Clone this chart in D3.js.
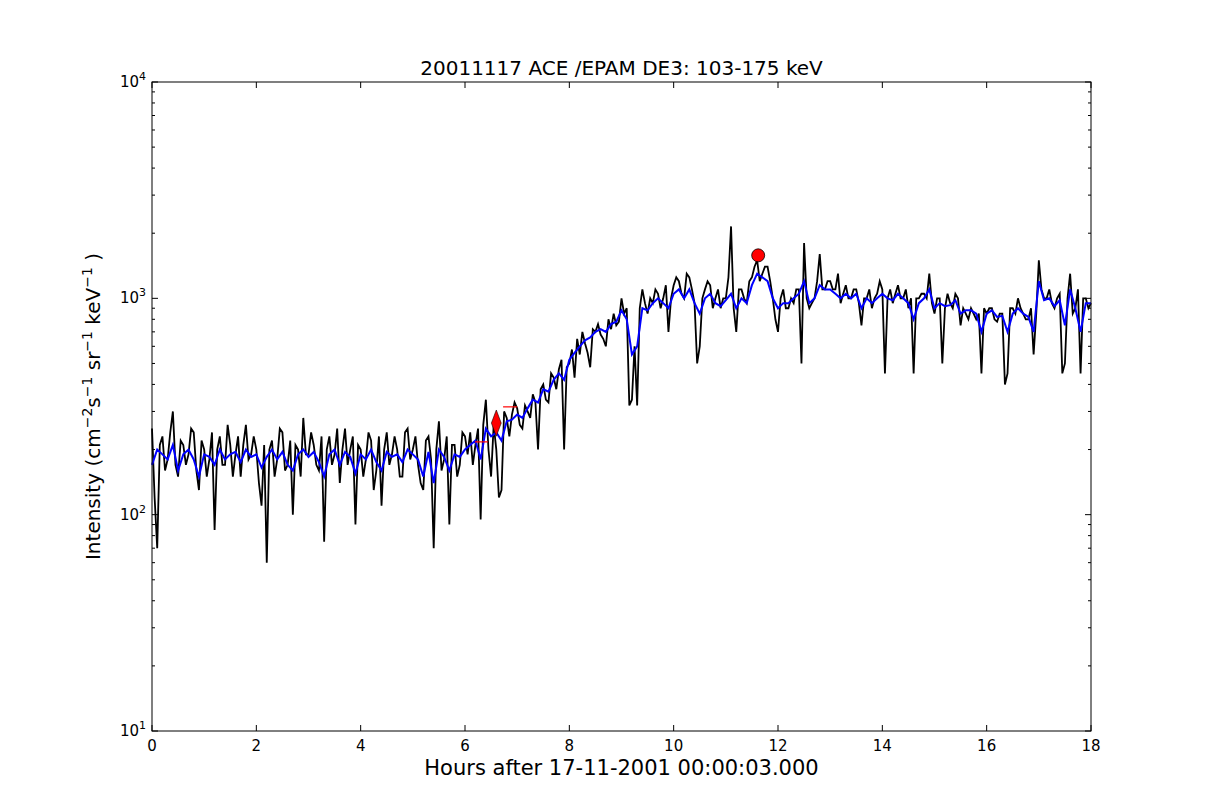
<!DOCTYPE html>
<html><head><meta charset="utf-8">
<script src="https://cdn.jsdelivr.net/npm/d3@7"></script>
<style>body{margin:0;background:#fff}svg{font-family:"DejaVu Sans",sans-serif}</style>
</head><body><svg id="c" width="1212" height="812"></svg>
<script>
const blackHours = d3.range(0, 361).map(i => i / 20);
const blueHours = d3.range(0, 181).map(i => i / 10);
const blackVals = [
250,120,70,210,230,160,180,240,300,170,
150,220,210,170,190,250,240,160,130,220,
200,150,180,240,85,200,230,170,170,260,
210,150,190,230,150,210,260,180,190,230,
200,140,110,210,60,200,220,150,180,250,
240,160,170,220,100,210,200,150,280,190,
190,240,210,170,160,230,75,200,230,170,
190,250,140,200,250,170,200,230,90,210,
200,150,180,240,220,130,160,230,110,200,
240,170,190,230,200,150,150,240,250,180,
200,230,170,140,130,220,230,180,70,200,
270,160,180,230,90,210,210,150,170,240,
230,190,240,170,210,250,95,260,340,200,
150,260,200,120,130,300,280,230,290,330,
310,260,250,320,300,280,360,330,200,380,
400,340,330,450,430,380,470,520,200,480,
500,580,430,650,550,700,620,560,480,720,
700,760,680,650,600,800,720,850,750,780,
1000,850,900,320,340,600,320,900,1100,950,
850,1000,950,1100,1050,900,1000,1150,700,1000,
1150,1250,1200,1050,1000,1300,1250,1100,950,500,
600,1000,1100,1200,1150,900,1000,1100,900,1000,
1000,1250,2150,900,700,1100,1100,1000,950,1200,
1250,1400,1500,1200,1300,1400,1400,1200,1000,800,
700,1000,1100,900,900,1000,950,1100,1100,500,
1800,1000,900,950,1000,1200,1600,1100,1100,1200,
1200,1100,1100,1300,950,1050,1150,1000,1000,1100,
1100,950,750,1000,1000,1100,900,1000,1050,1200,
1100,450,1000,1100,950,1050,1150,1000,1000,1100,
900,1000,450,1000,1000,1050,1050,1000,1300,950,
850,1000,1000,500,900,1050,950,900,1050,1000,
750,900,850,800,900,850,800,850,450,900,
850,900,900,800,780,850,850,400,450,900,
900,850,1000,900,850,800,800,900,550,850,
1500,1100,1000,1000,1100,950,900,1000,1050,450,
500,1000,1300,850,900,1100,450,1000,1000,900,
950];
const blueVals = [170,200,190,180,210,160,190,200,180,150,
190,185,170,200,180,190,195,175,200,185,
190,165,185,200,180,195,170,160,190,200,
185,195,175,150,190,200,170,195,185,155,
190,180,200,175,160,195,185,190,175,200,
190,180,150,195,140,200,185,160,190,185,
200,210,220,180,250,230,240,220,270,275,
290,280,310,340,330,380,370,420,450,420,
520,560,600,640,660,700,720,700,760,780,
880,800,550,600,900,880,950,1000,950,900,
1050,1100,1000,1100,950,850,1000,1050,950,920,
980,1050,900,1000,950,1150,1300,1250,1200,1000,
900,950,950,1000,1050,1200,950,1000,1150,1100,
1100,1050,1000,1050,1000,1050,900,1000,950,1000,
1050,1000,980,1050,1000,950,800,950,1000,1100,
900,950,920,930,980,850,880,880,850,700,
850,880,820,830,700,850,900,850,820,700,
1200,980,1000,920,980,750,1100,900,700,950,
950];
const xTicks = [0,2,4,6,8,10,12,14,16,18];
const yTicks = [10,100,1000,10000];
const diamond = {h:6.6, v:265};
const circle = {h:11.62, v:1580};
const redSegs = [{h0:6.19,h1:6.44,v:217},{h0:6.73,h1:7.0,v:315}];

const svg = d3.select("#c");
const L=152,R=1091,T=82,B=731;
const x = d3.scaleLinear().domain([0,18]).range([L,R]);
const y = d3.scaleLog().domain([10,10000]).range([B,T]);

const lineB = d3.line().x((d,i)=>x(blackHours[i])).y(d=>y(d));
const lineU = d3.line().x((d,i)=>x(blueHours[i])).y(d=>y(d));
svg.append("path").datum(blackVals).attr("d",lineB).attr("fill","none").attr("stroke","#000").attr("stroke-width",1.8);
svg.append("path").datum(blueVals).attr("d",lineU).attr("fill","none").attr("stroke","#0000ff").attr("stroke-width",2);
redSegs.forEach(s=>svg.append("line").attr("x1",x(s.h0)).attr("x2",x(s.h1)).attr("y1",y(s.v)).attr("y2",y(s.v)).attr("stroke","red").attr("stroke-width",1.2));
svg.append("path").attr("d",d3.symbol(d3.symbolDiamond,150)()).attr("transform",`translate(${x(diamond.h)},${y(diamond.v)}) scale(0.75,1.15)`).attr("fill","red").attr("stroke","#000").attr("stroke-width",0.6);
svg.append("circle").attr("cx",x(circle.h)).attr("cy",y(circle.v)).attr("r",6.5).attr("fill","red").attr("stroke","#000").attr("stroke-width",0.8);

svg.append("rect").attr("x",L).attr("y",T).attr("width",R-L).attr("height",B-T).attr("fill","none").attr("stroke","#000").attr("stroke-width",1);

const tk = svg.append("g").attr("stroke","#000").attr("stroke-width",1);
xTicks.forEach(t=>{
  tk.append("line").attr("x1",x(t)).attr("x2",x(t)).attr("y1",B).attr("y2",B-6);
  tk.append("line").attr("x1",x(t)).attr("x2",x(t)).attr("y1",T).attr("y2",T+6);
  svg.append("text").attr("x",x(t)).attr("y",B+20).attr("text-anchor","middle").attr("font-size",15).text(t);
});
for(let e=1;e<4;e++){for(let m=2;m<10;m++){const v=m*Math.pow(10,e);
  tk.append("line").attr("x1",L).attr("x2",L+3).attr("y1",y(v)).attr("y2",y(v));
  tk.append("line").attr("x1",R).attr("x2",R-3).attr("y1",y(v)).attr("y2",y(v));}}
yTicks.forEach(t=>{
  tk.append("line").attr("x1",L).attr("x2",L+6).attr("y1",y(t)).attr("y2",y(t));
  tk.append("line").attr("x1",R).attr("x2",R-6).attr("y1",y(t)).attr("y2",y(t));
  const e=Math.round(Math.log10(t));
  const tx=svg.append("text").attr("x",L-6).attr("y",y(t)+5).attr("text-anchor","end").attr("font-size",15);
  tx.append("tspan").text("10");
  tx.append("tspan").attr("dy",-7).attr("font-size",11).text(e);
});
svg.append("text").attr("x",(L+R)/2).attr("y",75).attr("text-anchor","middle").attr("font-size",20).text("20011117 ACE /EPAM DE3: 103-175 keV");
svg.append("text").attr("x",(L+R)/2).attr("y",775).attr("text-anchor","middle").attr("font-size",21).text("Hours after 17-11-2001 00:00:03.000");
const yl=svg.append("text").attr("transform",`translate(100,${(T+B)/2}) rotate(-90)`).attr("text-anchor","middle").attr("font-size",20);
yl.append("tspan").text("Intensity (cm");
yl.append("tspan").attr("dy",-8).attr("font-size",14).text("−2");
yl.append("tspan").attr("dy",8).text("s");
yl.append("tspan").attr("dy",-8).attr("font-size",14).text("−1");
yl.append("tspan").attr("dy",8).text(" sr");
yl.append("tspan").attr("dy",-8).attr("font-size",14).text("−1");
yl.append("tspan").attr("dy",8).text(" keV");
yl.append("tspan").attr("dy",-8).attr("font-size",14).text("−1");
yl.append("tspan").attr("dy",8).text(" )");
</script></body></html>
